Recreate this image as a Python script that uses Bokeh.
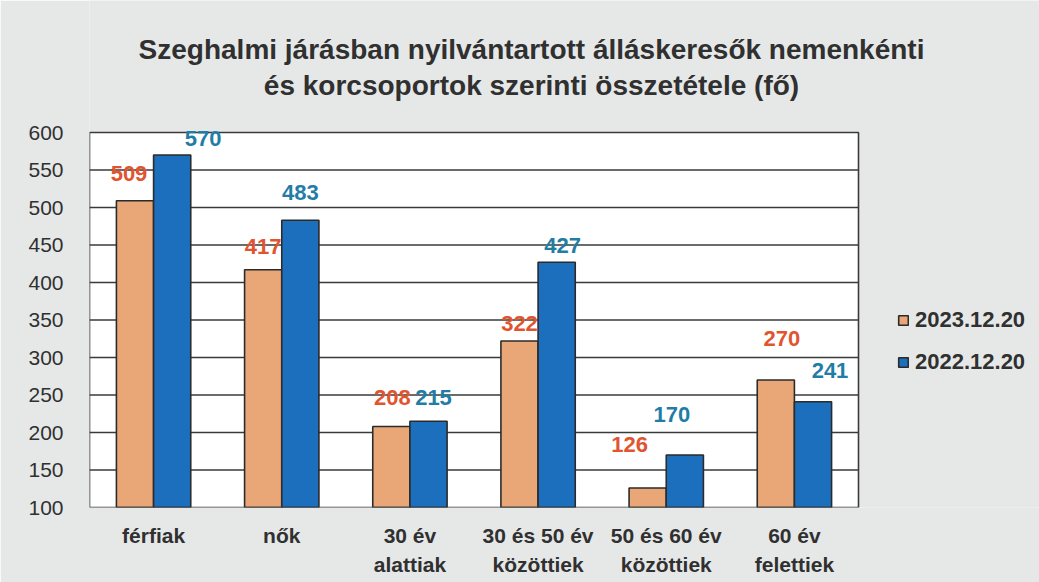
from bokeh.plotting import figure
from bokeh.models import ColumnDataSource, Label, Legend, LegendItem, FixedTicker
from bokeh.core.properties import value
from bokeh.embed import file_html
from bokeh.resources import INLINE

# ---- data ----
categories = ["férfiak", "nők", "30 év\nalattiak", "30 és 50 év\nközöttiek",
              "50 és 60 év\nközöttiek", "60 év\nfelettiek"]
series_2023 = [509, 417, 208, 322, 126, 270]
series_2022 = [570, 483, 215, 427, 170, 241]
series_names = ["2023.12.20", "2022.12.20"]
y_ticks = [100, 150, 200, 250, 300, 350, 400, 450, 500, 550, 600]
title_lines = ["Szeghalmi járásban nyilvántartott álláskeresők nemenkénti",
               "és korcsoportok szerinti összetétele (fő)"]

# ---- label placement (style, pixels) ----
lab_dx_2023 = [-6, 0, 1, 0, -18, 6]
lab_up_2023 = [27, 23, 29, 18, 44, 42]
lab_dx_2022 = [31, 0, 5, 6, -13, 17]
lab_up_2022 = [17, 28, 24, 17, 41, 31]

FONT = "Liberation Sans"
ORANGE = "#E9A777"
BLUE = "#1C6FBD"
ORANGE_TXT = "#E0552F"
BLUE_TXT = "#1F7DA6"
TXT = "#303030"
BG = "#E6E8E8"
GRID = "#3a3a3a"

n = len(categories)
pos = [i + 0.5 for i in range(n)]          # category centres on a numeric axis
y_lo, y_hi = y_ticks[0], y_ticks[-1]

# frame covers the whole canvas right/top so that title & legend are not clipped
FRAME_W, FRAME_H = 950, 507
PX_PER_CAT = 769 / n
PX_PER_UNIT = 375 / (y_hi - y_lo)

p = figure(x_range=(0, FRAME_W / PX_PER_CAT),
           y_range=(y_lo, y_lo + FRAME_H / PX_PER_UNIT),
           frame_width=FRAME_W, frame_height=FRAME_H,
           min_border_left=89, min_border_right=0,
           min_border_top=0, min_border_bottom=75,
           output_backend="svg", toolbar_location=None)

p.border_fill_color = BG
p.background_fill_color = BG
p.outline_line_color = None

# white plot area
p.quad(left=0, right=n, bottom=y_lo, top=y_hi, fill_color="white", line_color=None)
# gridlines
inner = y_ticks[1:-1]
p.segment(x0=[0] * len(inner), x1=[n] * len(inner), y0=inner, y1=inner,
          line_color=GRID, line_width=1.6)

src = ColumnDataSource(dict(
    xa=[x - 0.145 for x in pos], xb=[x + 0.145 for x in pos],
    a=series_2023, b=series_2022,
    a_txt=[str(v) for v in series_2023], b_txt=[str(v) for v in series_2022],
    a_dx=lab_dx_2023, a_dy=[-u for u in lab_up_2023],
    b_dx=lab_dx_2022, b_dy=[-u for u in lab_up_2022],
))

r1 = p.vbar(x="xa", top="a", bottom=y_lo, width=0.29, source=src,
            fill_color=ORANGE, line_color="#2b2b2b", line_width=1.6)
r2 = p.vbar(x="xb", top="b", bottom=y_lo, width=0.29, source=src,
            fill_color=BLUE, line_color="#2b2b2b", line_width=1.6)

# plot-area outline
p.quad(left=0, right=n, bottom=y_lo, top=y_hi, fill_color=None,
       line_color=GRID, line_width=1.6)

p.text(x="xa", y="a", text="a_txt", source=src,
       x_offset="a_dx", y_offset="a_dy", text_align="center", text_baseline="middle",
       text_font=value(FONT), text_font_style="bold", text_font_size="22px",
       text_color=ORANGE_TXT)
p.text(x="xb", y="b", text="b_txt", source=src,
       x_offset="b_dx", y_offset="b_dy", text_align="center", text_baseline="middle",
       text_font=value(FONT), text_font_style="bold", text_font_size="22px",
       text_color=BLUE_TXT)

p.xgrid.grid_line_color = None
p.ygrid.grid_line_color = None

# axes
p.yaxis.ticker = FixedTicker(ticks=y_ticks)
p.xaxis.ticker = FixedTicker(ticks=pos)
p.xaxis.major_label_overrides = {x: c for x, c in zip(pos, categories)}
for ax in (p.xaxis, p.yaxis):
    ax.axis_line_color = None
    ax.major_tick_line_color = None
    ax.minor_tick_line_color = None
    ax.major_tick_out = 0
    ax.major_tick_in = 0
    ax.minor_tick_out = 0
    ax.minor_tick_in = 0
    ax.major_label_text_color = TXT
    ax.major_label_text_font = FONT
p.yaxis.major_label_text_font_size = "21px"
p.yaxis.major_label_standoff = 26
p.xaxis.major_label_text_font_size = "21px"
p.xaxis.major_label_text_font_style = "bold"
p.xaxis.major_label_standoff = 16
p.xaxis.major_label_text_line_height = 1.3

# title (screen units relative to frame bottom-left)
for i, t in enumerate(title_lines):
    p.add_layout(Label(x=442, y=458 - 36 * i, x_units="screen", y_units="screen",
                       text=t, text_align="center", text_baseline="middle",
                       text_font=FONT, text_font_style="bold", text_font_size="28px",
                       text_color=TXT))

legend = Legend(items=[LegendItem(label=series_names[0], renderers=[r1]),
                       LegendItem(label=series_names[1], renderers=[r2])],
                location=(808, 132), orientation="vertical",
                glyph_width=12, glyph_height=12, label_height=24,
                spacing=16, padding=0, margin=0, label_standoff=6,
                label_text_font=FONT, label_text_font_style="bold",
                label_text_font_size="22px", label_text_color=TXT,
                background_fill_alpha=0, border_line_color=None)
p.add_layout(legend, "center")

open("out.html", "w").write(file_html(p, INLINE))
